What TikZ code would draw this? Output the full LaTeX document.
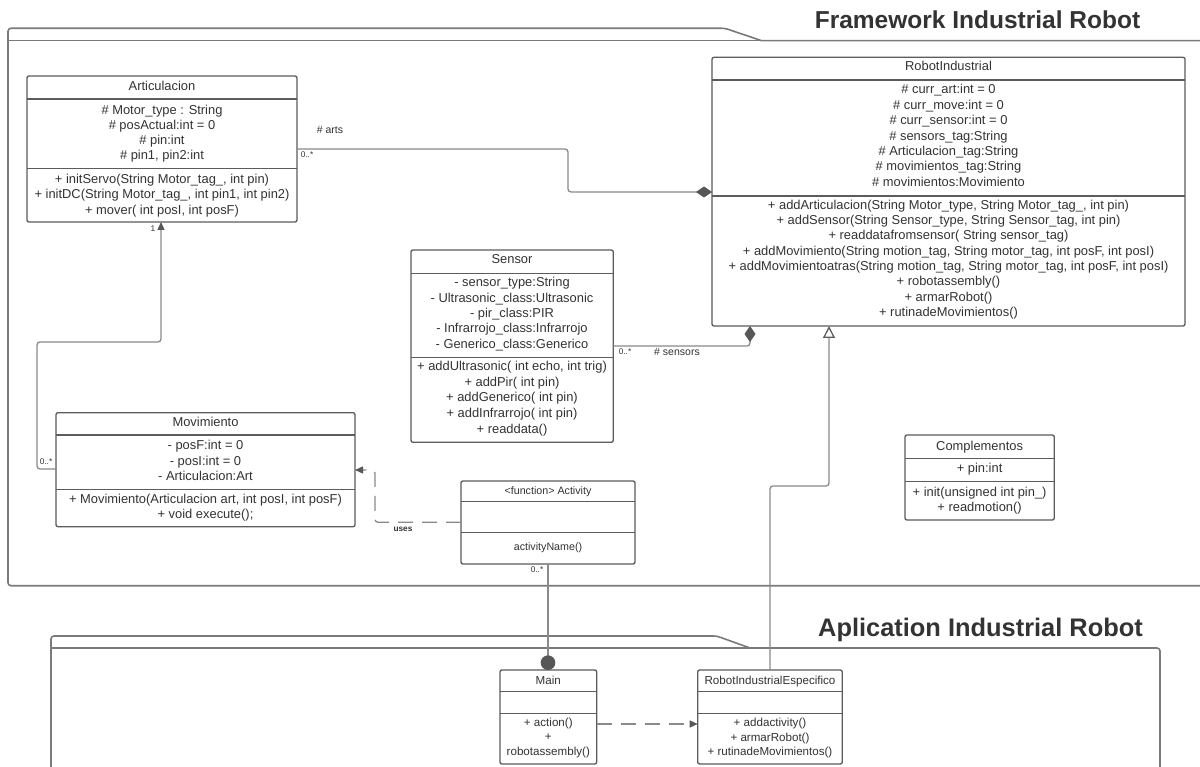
\documentclass[tikz,border=0pt]{standalone}
\usepackage{fontspec}
\setmainfont{Liberation Sans}
\usetikzlibrary{arrows.meta,calc}

\definecolor{ink}{HTML}{333333}
\definecolor{edge}{HTML}{5C5C5C}
\definecolor{framec}{HTML}{7A7A7A}
\definecolor{wire}{HTML}{8A8A8A}
\definecolor{tipc}{HTML}{575757}

% class box outline with two compartment separators
\newcommand{\classframe}[7]{%
  \node[box, minimum width={#4pt-#2pt}, minimum height={#5pt-#3pt}] (#1) at (#2,#3) {};
  \draw[sepline] (#2,#6) -- (#4,#6);
  \draw[sepline] (#2,#7) -- (#4,#7);
}
% a column of centred text lines: prefix, x, first baseline, step, style, lines
\newcommand{\textstack}[6]{%
  \foreach \t [count=\i] in {#6}
    \node[#5] (#1\i) at (#2,{#3+(\i-1)*#4}) {\t};
}

\begin{document}
\begin{tikzpicture}[x=1pt,y=-1pt,
  every node/.style={inner sep=0pt, outer sep=0pt, text=ink},
  box/.style={draw=edge, line width=1.35pt, rounded corners=2pt, anchor=north west, fill=white},
  sepline/.style={draw=edge, line width=1.35pt},
  body/.style={font=\fontsize{12.9}{15}\selectfont, anchor=base},
  fine/.style={font=\fontsize{11.6}{14}\selectfont, anchor=base},
  actf/.style={font=\fontsize{10.7}{13}\selectfont, anchor=base},
  role/.style={font=\fontsize{10.5}{12}\selectfont},
  mult/.style={font=\fontsize{8.3}{10}\selectfont},
  usesl/.style={font=\bfseries\fontsize{8.3}{10}\selectfont},
  heading/.style={font=\bfseries\fontsize{24.5}{29}\selectfont, anchor=base},
  frameline/.style={draw=framec, line width=1.6pt},
  wirel/.style={draw=wire, line width=1.3pt, rounded corners=3pt},
  dashy/.style={dash pattern=on 15pt off 9pt},
  compose/.style={-{Diamond[length=16pt,width=11pt,color=tipc]}},
  inherit/.style={-{Triangle[open,length=12pt,width=12pt,color=edge,fill=white]}},
  pointer/.style={-{Triangle[length=8pt,width=7pt,color=tipc]}},
  socket/.style={-{Circle[length=14.6pt,color=tipc]}}]

\useasboundingbox (0,0) rectangle (1200,767);
\clip (0,0) rectangle (1200,767);
\fill[white] (0,0) rectangle (1200,767);

% ---------- packages ----------
\draw[frameline, rounded corners=3pt] (1210,585.7) -- (8,585.7) -- (8,28.3) -- (725,28.3) [sharp corners] -- (761.7,40.7) -- (1210,40.7);
\draw[frameline] (8,40.7) -- (761.7,40.7);
\node[heading] (fwtitle) at (977.5,28.3) {Framework Industrial Robot};

\draw[frameline, rounded corners=3pt] (51,775) -- (51,636) -- (716.7,636) [sharp corners] -- (750,648) [rounded corners=3pt] -- (1160,648) -- (1160,775);
\draw[frameline] (51,648) -- (750,648);
\node[heading, font=\bfseries\fontsize{25.4}{30}\selectfont] (aptitle) at (980.5,636) {Aplication Industrial Robot};

% ---------- class outlines ----------
\classframe{art}{27}{76}{297}{222}{99}{168.7}
\classframe{robot}{712}{57.3}{1185}{326}{80}{196}
\classframe{sensor}{411}{250}{613.3}{442.3}{273.3}{357.3}
\classframe{mov}{56}{412.7}{355}{526.7}{435}{489.3}
\classframe{act}{461}{481}{635}{564}{501.7}{532.7}
\classframe{comp}{905}{435}{1054.3}{520}{458.3}{481.7}
\classframe{main}{500}{670}{596.7}{764}{691.7}{713.3}
\classframe{rie}{697.7}{670}{842.3}{764}{691.7}{713.3}

% ---------- connectors ----------
\draw[wirel, compose] (art.east |- 0,149) -- (568,149) -- (568,192) -- (robot.west |- 0,192);
\draw[wirel, compose] (sensor.east |- 0,346) -- (750,346) -- (robot.south -| 750,0);
\draw[wirel, pointer] (mov.west |- 0,469) -- (37,469) -- (37,342) -- (161,342) -- (art.south -| 161,0);
\draw[wirel, dashy, pointer] (act.west |- 0,522.3) -- (375,522.3) -- (375,470) -- (mov.east |- 0,470);
\draw[wirel, socket] (act.south -| 548,0) -- (main.north -| 548,0);
\draw[wirel, inherit] (rie.north -| 770,0) -- (770,486) -- (829,486) -- (robot.south -| 829,0);
\draw[wirel, dashy, pointer] (main.east |- 0,724) -- (rie.west |- 0,724);

% connector labels
\node[role] (artsl) at (330,130) {\# arts};
\node[mult] (artsm) at (307,155) {0..*};
\node[mult] (sensm) at (625,352) {0..*};
\node[role] (sensl) at (677,352) {\# sensors};
\node[mult] (onel) at (153,229) {1};
\node[mult] (movm) at (46,462) {0..*};
\node[usesl] (usesl) at (403,529) {uses};
\node[mult] (actm) at (537,569.5) {0..*};

% ---------- class texts ----------
\textstack{artt}{162}{90.7}{15}{body}{Articulacion}
\textstack{arta}{162}{114.3}{15}{body}{{\# Motor\_type : String},{\# posActual:int = 0},{\# pin:int},{\# pin1, pin2:int}}
\textstack{artm}{162}{183.7}{15.2}{body}{{+ initServo(String Motor\_tag\_, int pin)},{+ initDC(String Motor\_tag\_, int pin1, int pin2)},{+ mover( int posI, int posF)}}

\textstack{robt}{948.5}{71}{15}{body}{RobotIndustrial}
\textstack{roba}{948.5}{94}{15.4}{body}{{\# curr\_art:int = 0},{\# curr\_move:int = 0},{\# curr\_sensor:int = 0},{\# sensors\_tag:String},{\# Articulacion\_tag:String},{\# movimientos\_tag:String},{\# movimientos:Movimiento}}
\textstack{robm}{948.5}{209.2}{15.36}{body}{{+ addArticulacion(String Motor\_type, String Motor\_tag\_, int pin)},{+ addSensor(String Sensor\_type, String Sensor\_tag, int pin)},{+ readdatafromsensor( String sensor\_tag)},{+ addMovimiento(String motion\_tag, String motor\_tag, int posF, int posI)},{+ addMovimientoatras(String motion\_tag, String motor\_tag, int posF, int posI)},{+ robotassembly()},{+ armarRobot()},{+ rutinadeMovimientos()}}

\textstack{sent}{512}{264}{15}{body}{Sensor}
\textstack{sena}{512}{286.7}{15.4}{body}{{- sensor\_type:String},{- Ultrasonic\_class:Ultrasonic},{- pir\_class:PIR},{- Infrarrojo\_class:Infrarrojo},{- Generico\_class:Generico}}
\textstack{senm}{512}{370.7}{15.65}{body}{{+ addUltrasonic( int echo, int trig)},{+ addPir( int pin)},{+ addGenerico( int pin)},{+ addInfrarrojo( int pin)},{+ readdata()}}

\textstack{movt}{205.5}{426.7}{15}{body}{Movimiento}
\textstack{mova}{205.5}{449.3}{15.7}{body}{{- posF:int = 0},{- posI:int = 0},{- Articulacion:Art}}
\textstack{movm}{205.5}{503.3}{15}{body}{{+ Movimiento(Articulacion art, int posI, int posF)},{+ void execute();}}

\textstack{actt}{548}{494}{13}{actf}{{<function> Activity}}
\textstack{actm}{548}{550.7}{13}{actf}{{activityName()}}

\textstack{compt}{979.6}{450}{15}{body}{Complementos}
\textstack{compa}{979.6}{472.7}{15}{body}{{+ pin:int}}
\textstack{compm}{979.6}{496}{15.7}{body}{{+ init(unsigned int pin\_)},{+ readmotion()}}

\textstack{maint}{548.3}{684}{14}{fine}{Main}
\textstack{mainm}{548.3}{726.7}{14.2}{fine}{{+ action()},{+},{robotassembly()}}

\textstack{riet}{770}{684}{14}{fine}{RobotIndustrialEspecifico}
\textstack{riem}{770}{726.7}{14.5}{fine}{{+ addactivity()},{+ armarRobot()},{+ rutinadeMovimientos()}}

\end{tikzpicture}
\end{document}
